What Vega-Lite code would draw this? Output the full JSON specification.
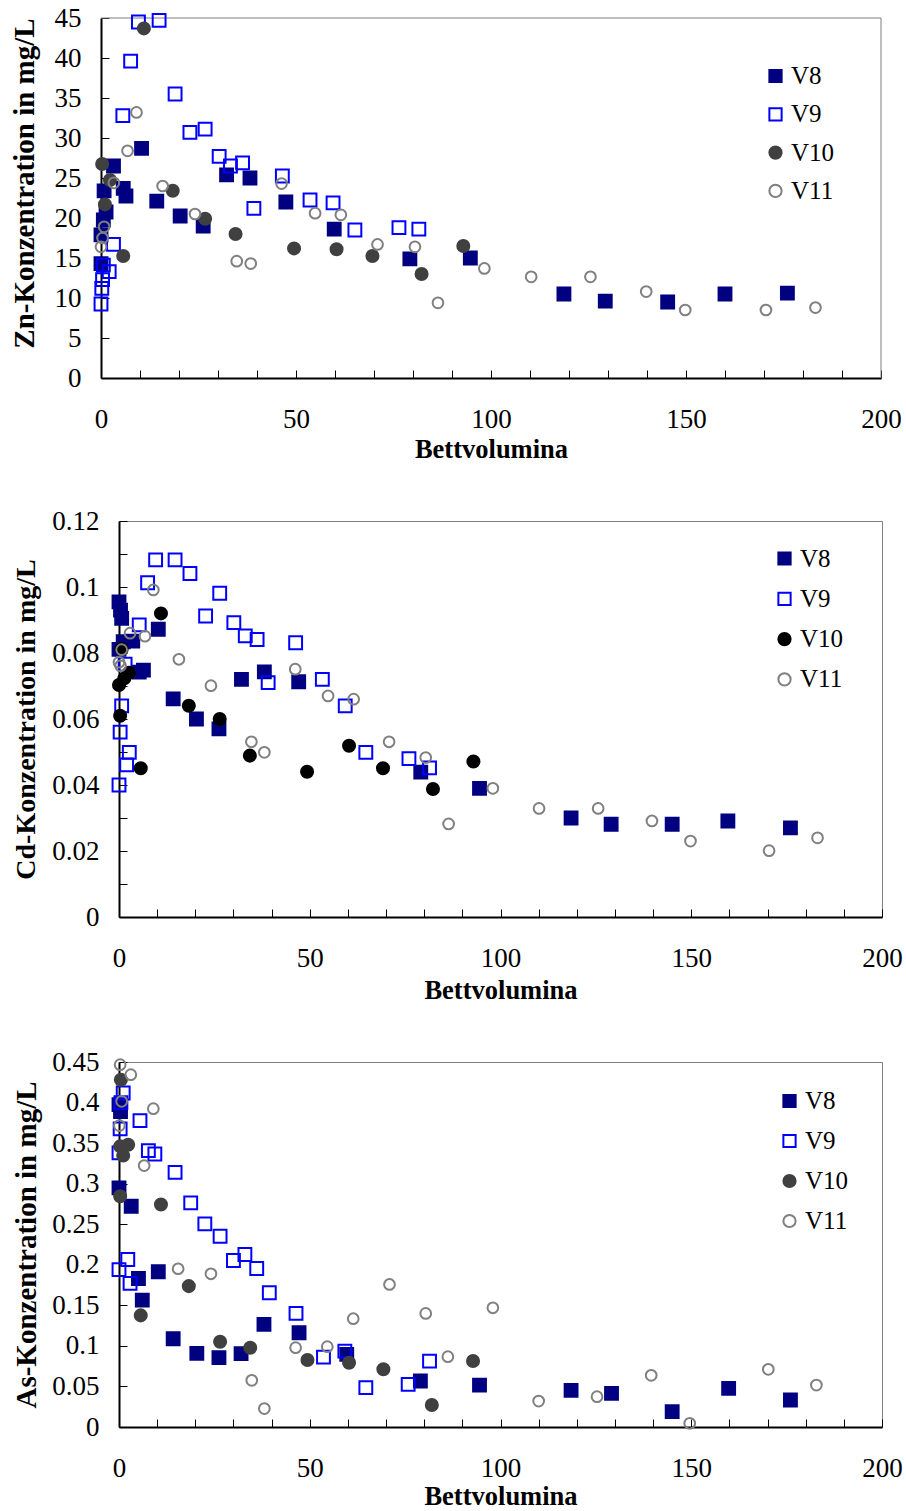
{
  "$schema": "https://vega.github.io/schema/vega-lite/v6.json",
  "padding": {"left": 10, "top": 4, "right": 5, "bottom": 0},
  "background": "white",
  "config": {
    "view": {"stroke": "#7f7f7f", "strokeWidth": 1},
    "axis": {
      "labelFont": "Liberation Serif", "labelFontSize": 27, "labelColor": "black",
      "titleFont": "Liberation Serif", "titleFontSize": 26.5, "titleFontWeight": "bold", "titleColor": "black",
      "domainColor": "black", "domainWidth": 2, "tickColor": "black", "tickWidth": 1,
      "grid": false, "labelFlush": false, "labelOverlap": false
    },
    "legend": {"labelFont": "Liberation Serif", "labelFontSize": 25, "labelColor": "black", "title": null, "padding": 0, "labelOffset": 3, "symbolSize": 150, "symbolStrokeWidth": 2, "orient": "none"}
  },
  "datasets": {
    "zn": [
      {"s":"V8","x":0,"y":14.3},{"s":"V8","x":0,"y":17.9},{"s":"V8","x":0.6,"y":19.75},{"s":"V8","x":1.3,"y":20.75},{"s":"V8","x":0.8,"y":23.4},{"s":"V8","x":3.2,"y":26.5},{"s":"V8","x":5.7,"y":23.7},{"s":"V8","x":6.4,"y":22.75},{"s":"V8","x":10.4,"y":28.7},{"s":"V8","x":14.3,"y":22.1},{"s":"V8","x":20.3,"y":20.25},{"s":"V8","x":26.2,"y":19.0},{"s":"V8","x":32.2,"y":25.4},{"s":"V8","x":38.2,"y":25.0},{"s":"V8","x":47.4,"y":22.0},{"s":"V8","x":59.8,"y":18.6},{"s":"V8","x":79.2,"y":14.9},{"s":"V8","x":94.7,"y":15.0},{"s":"V8","x":118.7,"y":10.5},{"s":"V8","x":129.3,"y":9.6},{"s":"V8","x":145.3,"y":9.5},{"s":"V8","x":160,"y":10.5},{"s":"V8","x":176,"y":10.6},
      {"s":"V9","x":0,"y":9.25},{"s":"V9","x":0.2,"y":11.2},{"s":"V9","x":0.4,"y":12.3},{"s":"V9","x":0.6,"y":14.1},{"s":"V9","x":2.1,"y":13.3},{"s":"V9","x":3.2,"y":16.7},{"s":"V9","x":5.6,"y":32.8},{"s":"V9","x":7.6,"y":39.6},{"s":"V9","x":9.6,"y":44.5},{"s":"V9","x":14.9,"y":44.7},{"s":"V9","x":19.0,"y":35.5},{"s":"V9","x":22.8,"y":30.7},{"s":"V9","x":26.7,"y":31.1},{"s":"V9","x":30.3,"y":27.7},{"s":"V9","x":33.2,"y":26.5},{"s":"V9","x":36.3,"y":26.9},{"s":"V9","x":39.2,"y":21.2},{"s":"V9","x":46.5,"y":25.25},{"s":"V9","x":53.6,"y":22.25},{"s":"V9","x":59.5,"y":21.9},{"s":"V9","x":65.1,"y":18.5},{"s":"V9","x":76.4,"y":18.8},{"s":"V9","x":81.5,"y":18.6},
      {"s":"V10","x":0.3,"y":26.75},{"s":"V10","x":2.3,"y":24.75},{"s":"V10","x":1.0,"y":21.7},{"s":"V10","x":5.7,"y":15.25},{"s":"V10","x":11.0,"y":43.7},{"s":"V10","x":18.4,"y":23.4},{"s":"V10","x":26.7,"y":19.9},{"s":"V10","x":34.5,"y":18.0},{"s":"V10","x":49.5,"y":16.2},{"s":"V10","x":60.4,"y":16.1},{"s":"V10","x":69.6,"y":15.25},{"s":"V10","x":82.2,"y":13.0},{"s":"V10","x":92.9,"y":16.5},
      {"s":"V11","x":0,"y":16.4},{"s":"V11","x":0.4,"y":17.5},{"s":"V11","x":0.8,"y":18.9},{"s":"V11","x":3.3,"y":24.4},{"s":"V11","x":6.8,"y":28.4},{"s":"V11","x":9.1,"y":33.2},{"s":"V11","x":15.8,"y":24.0},{"s":"V11","x":24.1,"y":20.5},{"s":"V11","x":34.8,"y":14.6},{"s":"V11","x":38.4,"y":14.3},{"s":"V11","x":46.3,"y":24.3},{"s":"V11","x":54.9,"y":20.6},{"s":"V11","x":61.5,"y":20.4},{"s":"V11","x":70.9,"y":16.7},{"s":"V11","x":80.5,"y":16.4},{"s":"V11","x":86.4,"y":9.4},{"s":"V11","x":98.3,"y":13.7},{"s":"V11","x":110.3,"y":12.65},{"s":"V11","x":125.5,"y":12.65},{"s":"V11","x":139.8,"y":10.8},{"s":"V11","x":149.8,"y":8.5},{"s":"V11","x":170.5,"y":8.5},{"s":"V11","x":183.2,"y":8.8}
    ],
    "cd": [
      {"s":"V8","x":0,"y":0.0955},{"s":"V8","x":0.4,"y":0.093},{"s":"V8","x":0.7,"y":0.0905},{"s":"V8","x":1.1,"y":0.0834},{"s":"V8","x":3.6,"y":0.0836},{"s":"V8","x":0,"y":0.0811},{"s":"V8","x":5.3,"y":0.0742},{"s":"V8","x":6.4,"y":0.0748},{"s":"V8","x":10.3,"y":0.0872},{"s":"V8","x":14.2,"y":0.0661},{"s":"V8","x":20.3,"y":0.06},{"s":"V8","x":26.2,"y":0.057},{"s":"V8","x":32.1,"y":0.072},{"s":"V8","x":38.1,"y":0.0743},{"s":"V8","x":47.1,"y":0.0713},{"s":"V8","x":79.1,"y":0.0439},{"s":"V8","x":94.5,"y":0.039},{"s":"V8","x":118.5,"y":0.03},{"s":"V8","x":129,"y":0.0281},{"s":"V8","x":145,"y":0.0281},{"s":"V8","x":159.6,"y":0.0291},{"s":"V8","x":176,"y":0.027},
      {"s":"V9","x":0,"y":0.04},{"s":"V9","x":2.0,"y":0.0461},{"s":"V9","x":2.7,"y":0.0499},{"s":"V9","x":0.3,"y":0.056},{"s":"V9","x":0.7,"y":0.064},{"s":"V9","x":1.6,"y":0.0766},{"s":"V9","x":5.3,"y":0.0885},{"s":"V9","x":7.5,"y":0.1013},{"s":"V9","x":9.6,"y":0.1082},{"s":"V9","x":14.7,"y":0.1082},{"s":"V9","x":18.6,"y":0.1041},{"s":"V9","x":22.7,"y":0.0912},{"s":"V9","x":26.4,"y":0.0981},{"s":"V9","x":30.1,"y":0.0892},{"s":"V9","x":33.1,"y":0.0852},{"s":"V9","x":36.2,"y":0.0841},{"s":"V9","x":39.1,"y":0.071},{"s":"V9","x":46.3,"y":0.0831},{"s":"V9","x":53.3,"y":0.072},{"s":"V9","x":59.3,"y":0.064},{"s":"V9","x":64.7,"y":0.0499},{"s":"V9","x":76,"y":0.048},{"s":"V9","x":81.4,"y":0.0452},
      {"s":"V10","x":0,"y":0.0703},{"s":"V10","x":0.3,"y":0.061},{"s":"V10","x":1.4,"y":0.0723},{"s":"V10","x":2.6,"y":0.074},{"s":"V10","x":0.7,"y":0.0812},{"s":"V10","x":5.7,"y":0.0451},{"s":"V10","x":11,"y":0.092},{"s":"V10","x":18.3,"y":0.064},{"s":"V10","x":26.4,"y":0.06},{"s":"V10","x":34.3,"y":0.0489},{"s":"V10","x":49.3,"y":0.044},{"s":"V10","x":60.3,"y":0.0519},{"s":"V10","x":69.2,"y":0.0451},{"s":"V10","x":82.3,"y":0.0388},{"s":"V10","x":92.9,"y":0.0471},
      {"s":"V11","x":0,"y":0.0772},{"s":"V11","x":0.4,"y":0.0761},{"s":"V11","x":0.7,"y":0.081},{"s":"V11","x":2.9,"y":0.086},{"s":"V11","x":6.8,"y":0.0851},{"s":"V11","x":9.0,"y":0.0991},{"s":"V11","x":15.7,"y":0.0781},{"s":"V11","x":24.1,"y":0.0701},{"s":"V11","x":34.7,"y":0.0531},{"s":"V11","x":38.1,"y":0.0499},{"s":"V11","x":46.2,"y":0.0751},{"s":"V11","x":54.8,"y":0.067},{"s":"V11","x":61.5,"y":0.066},{"s":"V11","x":70.8,"y":0.0531},{"s":"V11","x":80.4,"y":0.0483},{"s":"V11","x":86.4,"y":0.0282},{"s":"V11","x":98,"y":0.039},{"s":"V11","x":110.1,"y":0.0329},{"s":"V11","x":125.6,"y":0.0329},{"s":"V11","x":139.7,"y":0.0291},{"s":"V11","x":149.8,"y":0.023},{"s":"V11","x":170.4,"y":0.0201},{"s":"V11","x":183.1,"y":0.024}
    ],
    "as": [
      {"s":"V8","x":0,"y":0.3974},{"s":"V8","x":0.4,"y":0.389},{"s":"V8","x":0,"y":0.2948},{"s":"V8","x":3.2,"y":0.2722},{"s":"V8","x":5.1,"y":0.1831},{"s":"V8","x":6.1,"y":0.1564},{"s":"V8","x":10.3,"y":0.1914},{"s":"V8","x":14.2,"y":0.1088},{"s":"V8","x":20.4,"y":0.0908},{"s":"V8","x":26.2,"y":0.0855},{"s":"V8","x":32,"y":0.0904},{"s":"V8","x":38,"y":0.1265},{"s":"V8","x":47.2,"y":0.1162},{"s":"V8","x":59.7,"y":0.0895},{"s":"V8","x":79,"y":0.0567},{"s":"V8","x":94.5,"y":0.0517},{"s":"V8","x":118.5,"y":0.0452},{"s":"V8","x":129.1,"y":0.0415},{"s":"V8","x":145,"y":0.019},{"s":"V8","x":159.8,"y":0.0477},{"s":"V8","x":176,"y":0.0333},
      {"s":"V9","x":0,"y":0.194},{"s":"V9","x":2.3,"y":0.2065},{"s":"V9","x":2.9,"y":0.177},{"s":"V9","x":0,"y":0.338},{"s":"V9","x":0.3,"y":0.3675},{"s":"V9","x":0.5,"y":0.4},{"s":"V9","x":1.1,"y":0.4118},{"s":"V9","x":5.5,"y":0.3777},{"s":"V9","x":7.7,"y":0.3407},{"s":"V9","x":9.4,"y":0.3366},{"s":"V9","x":14.7,"y":0.314},{"s":"V9","x":18.8,"y":0.2763},{"s":"V9","x":22.5,"y":0.2505},{"s":"V9","x":26.5,"y":0.2352},{"s":"V9","x":30,"y":0.2053},{"s":"V9","x":33,"y":0.2127},{"s":"V9","x":36.1,"y":0.1954},{"s":"V9","x":39.4,"y":0.1655},{"s":"V9","x":46.4,"y":0.14},{"s":"V9","x":53.6,"y":0.0862},{"s":"V9","x":59.2,"y":0.0936},{"s":"V9","x":64.7,"y":0.0485},{"s":"V9","x":75.8,"y":0.0526},{"s":"V9","x":81.4,"y":0.0813},
      {"s":"V10","x":0.5,"y":0.4282},{"s":"V10","x":0.3,"y":0.346},{"s":"V10","x":2.4,"y":0.348},{"s":"V10","x":1.1,"y":0.3346},{"s":"V10","x":0.3,"y":0.2845},{"s":"V10","x":5.7,"y":0.1376},{"s":"V10","x":11,"y":0.2743},{"s":"V10","x":18.3,"y":0.1737},{"s":"V10","x":26.5,"y":0.1052},{"s":"V10","x":34.4,"y":0.0978},{"s":"V10","x":49.4,"y":0.0825},{"s":"V10","x":60.3,"y":0.0793},{"s":"V10","x":69.3,"y":0.0711},{"s":"V10","x":82,"y":0.0271},{"s":"V10","x":92.8,"y":0.0813},
      {"s":"V11","x":0.3,"y":0.4467},{"s":"V11","x":3.1,"y":0.4344},{"s":"V11","x":0.7,"y":0.4015},{"s":"V11","x":0.1,"y":0.3716},{"s":"V11","x":6.6,"y":0.3223},{"s":"V11","x":9,"y":0.3925},{"s":"V11","x":15.5,"y":0.1951},{"s":"V11","x":24.1,"y":0.1889},{"s":"V11","x":34.8,"y":0.0575},{"s":"V11","x":38.1,"y":0.0227},{"s":"V11","x":46.3,"y":0.0978},{"s":"V11","x":54.6,"y":0.099},{"s":"V11","x":61.4,"y":0.1335},{"s":"V11","x":70.9,"y":0.1757},{"s":"V11","x":80.4,"y":0.14},{"s":"V11","x":86.2,"y":0.0867},{"s":"V11","x":98,"y":0.147},{"s":"V11","x":110,"y":0.032},{"s":"V11","x":125.3,"y":0.0374},{"s":"V11","x":139.5,"y":0.0637},{"s":"V11","x":149.6,"y":0.0046},{"s":"V11","x":170.2,"y":0.0711},{"s":"V11","x":182.8,"y":0.0517}
    ]
  },
  "vconcat": [
    {
      "width": 762, "height": 360,
      "view": {"stroke": null},
      "layer": [
        {
          "data": {"values": [{}]},
          "mark": {"type": "rule", "color": "#7f7f7f", "strokeWidth": 1},
          "encoding": {"x": {"datum": 0, "type": "quantitative", "axis": null}, "x2": {"datum": 200}, "y": {"datum": 45, "type": "quantitative", "axis": null}}
        },
        {
          "data": {"values": [{}]},
          "mark": {"type": "rule", "color": "#7f7f7f", "strokeWidth": 1},
          "encoding": {"x": {"datum": 200, "type": "quantitative", "axis": null}, "y": {"datum": 0, "type": "quantitative", "axis": null}, "y2": {"datum": 45}}
        },
        {
          "data": {"name": "zn"},
          "mark": {"type": "point", "strokeWidth": 2, "opacity": 1},
          "encoding": {
            "x": {"field": "x", "type": "quantitative", "scale": {"domain": [0, 200], "nice": false, "range": [-18, 762]},
              "axis": {"title": "Bettvolumina", "values": [0,10,20,30,40,50,60,70,80,90,100,110,120,130,140,150,160,170,180,190,200], "labelExpr": "datum.value % 50 === 0 ? datum.label : ''", "tickSize": -8, "labelPadding": 36, "titlePadding": 4}},
            "y": {"field": "y", "type": "quantitative", "scale": {"domain": [0, 45], "nice": false},
              "axis": {"title": "Zn-Konzentration in mg/L", "offset": 18, "values": [0,5,10,15,20,25,30,35,40,45], "tickSize": -8, "labelPadding": 28, "titlePadding": 15, "titleFontSize": 29, "titleY": 165}},
            "shape": {"field": "s", "type": "nominal", "scale": {"domain": ["V8","V9","V10","V11"], "range": ["square","square","circle","circle"]},
              "legend": {"legendX": 644, "legendY": 45.5, "rowPadding": 12.3}},
            "stroke": {"field": "s", "type": "nominal", "scale": {"domain": ["V8","V9","V10","V11"], "range": ["#000080","#0000ff","#404040","#808080"]},
              "legend": {"legendX": 644, "legendY": 45.5, "rowPadding": 12.3}},
            "fill": {"field": "s", "type": "nominal", "scale": {"domain": ["V8","V9","V10","V11"], "range": ["#000080","transparent","#404040","transparent"]},
              "legend": {"legendX": 644, "legendY": 45.5, "rowPadding": 12.3}},
            "size": {"condition": [{"test": "datum.s === 'V11'", "value": 115}, {"test": "datum.s === 'V10'", "value": 145}], "value": 165}
          }
        }
      ],
      "resolve": {"axis": {"x": "independent", "y": "independent"}}
    },
    {
      "width": 763, "height": 396,
      "data": {"name": "cd"},
      "mark": {"type": "point", "strokeWidth": 2, "opacity": 1},
      "encoding": {
        "x": {"field": "x", "type": "quantitative", "scale": {"domain": [0, 200], "nice": false},
          "axis": {"title": "Bettvolumina", "values": [0,10,20,30,40,50,60,70,80,90,100,110,120,130,140,150,160,170,180,190,200], "labelExpr": "datum.value % 50 === 0 ? datum.label : ''", "tickSize": -8, "labelPadding": 36, "titlePadding": 6}},
        "y": {"field": "y", "type": "quantitative", "scale": {"domain": [0, 0.12], "nice": false},
          "axis": {"title": "Cd-Konzentration in mg/L", "values": [0,0.01,0.02,0.03,0.04,0.05,0.06,0.07,0.08,0.09,0.1,0.11,0.12], "labelExpr": "round(datum.value*100) % 2 === 0 ? format(datum.value, '~g') : ''", "tickSize": -8, "labelPadding": 28, "titlePadding": 11, "titleFontSize": 28}},
        "shape": {"field": "s", "type": "nominal", "scale": {"domain": ["V8","V9","V10","V11"], "range": ["square","square","circle","circle"]},
          "legend": {"legendX": 653, "legendY": 25, "rowPadding": 14.3}},
        "stroke": {"field": "s", "type": "nominal", "scale": {"domain": ["V8","V9","V10","V11"], "range": ["#000080","#0000ff","#000000","#808080"]},
          "legend": {"legendX": 653, "legendY": 25, "rowPadding": 14.3}},
        "fill": {"field": "s", "type": "nominal", "scale": {"domain": ["V8","V9","V10","V11"], "range": ["#000080","transparent","#000000","transparent"]},
          "legend": {"legendX": 653, "legendY": 25, "rowPadding": 14.3}},
        "size": {"condition": [{"test": "datum.s === 'V11'", "value": 115}, {"test": "datum.s === 'V10'", "value": 145}], "value": 165}
      }
    },
    {
      "width": 763, "height": 365,
      "data": {"name": "as"},
      "mark": {"type": "point", "strokeWidth": 2, "opacity": 1},
      "encoding": {
        "x": {"field": "x", "type": "quantitative", "scale": {"domain": [0, 200], "nice": false},
          "axis": {"title": "Bettvolumina", "values": [0,10,20,30,40,50,60,70,80,90,100,110,120,130,140,150,160,170,180,190,200], "labelExpr": "datum.value % 50 === 0 ? datum.label : ''", "tickSize": -8, "labelPadding": 36, "titlePadding": 2.5}},
        "y": {"field": "y", "type": "quantitative", "scale": {"domain": [0, 0.45], "nice": false},
          "axis": {"title": "As-Konzentration in mg/L", "values": [0,0.05,0.1,0.15,0.2,0.25,0.3,0.35,0.4,0.45], "format": "~g", "tickSize": -8, "labelPadding": 28, "titlePadding": 10, "titleFontSize": 29}},
        "shape": {"field": "s", "type": "nominal", "scale": {"domain": ["V8","V9","V10","V11"], "range": ["square","square","circle","circle"]},
          "legend": {"legendX": 658, "legendY": 26.5, "rowPadding": 14}},
        "stroke": {"field": "s", "type": "nominal", "scale": {"domain": ["V8","V9","V10","V11"], "range": ["#000080","#0000ff","#404040","#808080"]},
          "legend": {"legendX": 658, "legendY": 26.5, "rowPadding": 14}},
        "fill": {"field": "s", "type": "nominal", "scale": {"domain": ["V8","V9","V10","V11"], "range": ["#000080","transparent","#404040","transparent"]},
          "legend": {"legendX": 658, "legendY": 26.5, "rowPadding": 14}},
        "size": {"condition": [{"test": "datum.s === 'V11'", "value": 115}, {"test": "datum.s === 'V10'", "value": 145}], "value": 165}
      }
    }
  ],
  "spacing": 43,
  "resolve": {
    "scale": {"x": "independent", "y": "independent", "shape": "independent", "stroke": "independent", "fill": "independent"},
    "legend": {"shape": "independent", "stroke": "independent", "fill": "independent"}
  }
}
